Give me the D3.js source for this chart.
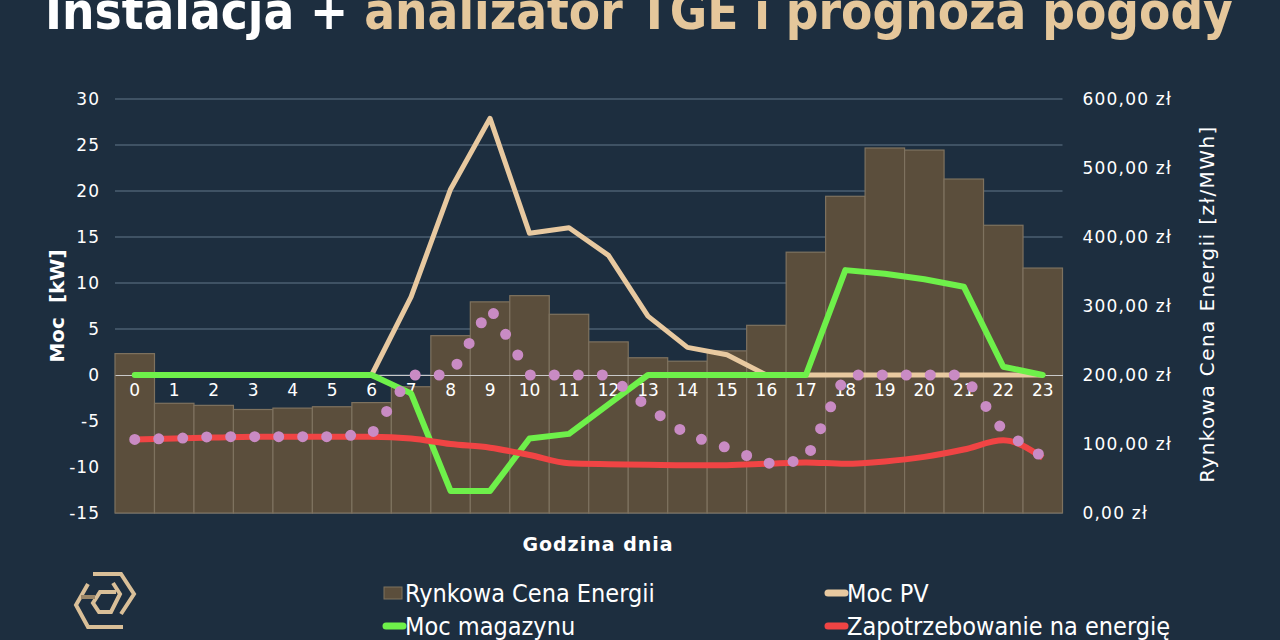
<!DOCTYPE html>
<html>
<head>
<meta charset="utf-8">
<script src="https://cdn.jsdelivr.net/npm/d3@7"></script>
<style>
  body { margin: 0; background: #1d2e3f; }
  svg { display: block; }
  .tick text { fill: #ffffff; }
</style>
</head>
<body>
<div class="chart"></div>
<script>
// hours of the day
var hours = d3.range(0, 24)

// market energy price [zł/MWh] (bars, right axis)
var price = [231, 159, 156, 150, 152, 154, 160, 183, 257, 306, 315, 288,
  248, 225, 220, 235, 272, 378, 459, 529, 526, 484, 417, 355]

// PV power [kW]
var pvPower = [0, 0, 0, 0, 0, 0, 0, 8.5, 20.2, 27.9, 15.4, 16.0,
  13.0, 6.4, 3.0, 2.2, 0, 0, 0, 0, 0, 0, 0, 0]

// storage power [kW]
var storagePower = [0, 0, 0, 0, 0, 0, 0, -2.0, -12.6, -12.6, -6.9, -6.4,
  -3.2, 0, 0, 0, 0, 0, 11.4, 11.0, 10.4, 9.6, 0.9, 0]

// energy demand [kW]
var demand = [-7.0, -6.9, -6.8, -6.7, -6.7, -6.7, -6.7, -6.9, -7.5, -7.9, -8.7, -9.6,
  -9.7, -9.75, -9.8, -9.8, -9.65, -9.5, -9.65, -9.4, -8.9, -8.1, -7.1, -9.0]

// grid exchange [kW] (dotted series)
var gridPower = [-7.0, -6.9, -6.7, -6.7, -6.7, -6.7, -6.4, 0, 0, 7.3, 0, 0,
  0, -3.5, -6.5, -7.9, -9.6, -9.3, 0, 0, 0, 0, -6.1, -8.9]

var leftTicks = [-15, -10, -5, 0, 5, 10, 15, 20, 25, 30]
var rightTicks = [0, 100, 200, 300, 400, 500, 600]

var legendLabels = ['Rynkowa Cena Energii', 'Moc PV', 'Moc magazynu', 'Zapotrzebowanie na energię']
var legendColors = ['#5b4e3c', '#e8c9a0', '#6ef04a', '#f04444']

var W = 1280
var H = 640
var font = '"DejaVu Sans", sans-serif'

var svg = d3.select('.chart')
  .append('svg')
  .attr('width', W)
  .attr('height', H)

svg.append('rect')
  .attr('width', W)
  .attr('height', H)
  .attr('fill', '#1d2e3f')

// Title
var title = svg.append('text')
  .attr('x', 45)
  .attr('y', 29)
  .attr('font-family', '"Liberation Sans Narrow", "DejaVu Sans Condensed", sans-serif')
  .attr('font-weight', 'bold')
  .attr('font-size', 52)
title.append('tspan').attr('fill', '#ffffff').text('Instalacja + ')
title.append('tspan').attr('fill', '#e5c79b').text('analizator TGE i prognoza pogody')
var tw = title.node().getComputedTextLength()
title.attr('font-size', 52 * 1188 / tw)

// Scales
var x = d3.scaleBand()
  .domain(hours)
  .range([115, 1062.5])
  .padding(0)

var yL = d3.scaleLinear()
  .domain([-15, 30])
  .range([513, 99])

var yR = d3.scaleLinear()
  .domain([0, 600])
  .range([513, 99])

var cx = h => x(h) + x.bandwidth() / 2

// Gridlines
svg.append('g')
  .selectAll('line')
  .data(leftTicks)
  .enter()
  .append('line')
  .attr('x1', 115)
  .attr('x2', 1062.5)
  .attr('y1', d => yL(d))
  .attr('y2', d => yL(d))
  .attr('stroke', '#62778a')
  .attr('stroke-width', 1.2)

// Price bars
svg.append('g')
  .selectAll('rect')
  .data(hours)
  .enter()
  .append('rect')
  .attr('x', h => x(h))
  .attr('width', x.bandwidth())
  .attr('y', h => yR(price[h]))
  .attr('height', h => yR(0) - yR(price[h]))
  .attr('fill', '#5b4e3c')
  .attr('stroke', '#7e725f')
  .attr('stroke-width', 1.2)

// Left axis
var yAxisL = d3.axisLeft(yL).tickValues(leftTicks).tickSize(0).tickPadding(15)
  .tickFormat(d => String(d))
svg.append('g')
  .attr('transform', 'translate(115,0)')
  .call(yAxisL)
  .call(g => g.select('.domain').remove())
  .selectAll('text')
  .attr('font-family', font)
  .attr('font-size', 17)
  .attr('letter-spacing', 1)

// Right axis
var yAxisR = d3.axisRight(yR).tickValues(rightTicks).tickSize(0).tickPadding(20)
  .tickFormat(d => d.toFixed(2).replace('.', ',') + ' zł')
svg.append('g')
  .attr('transform', 'translate(1062.5,0)')
  .call(yAxisR)
  .call(g => g.select('.domain').remove())
  .selectAll('text')
  .attr('font-family', font)
  .attr('font-size', 17)
  .attr('letter-spacing', 1.2)

// X axis on zero line
var xAxis = d3.axisBottom(x).tickSize(0).tickSizeOuter(0).tickPadding(9)
svg.append('g')
  .attr('transform', 'translate(0,' + yL(0) + ')')
  .call(xAxis)
  .call(g => g.select('.domain').attr('stroke', '#c9c9c9').attr('stroke-width', 1.2))
  .selectAll('text')
  .attr('font-family', font)
  .attr('font-size', 17)

// Lines
var line = d3.line()
  .x((d, i) => cx(i))
  .y(d => yL(d))

svg.append('path')
  .datum(pvPower)
  .attr('d', line)
  .attr('fill', 'none')
  .attr('stroke', '#e8c9a0')
  .attr('stroke-width', 5)
  .attr('stroke-linejoin', 'round')

svg.append('path')
  .datum(storagePower)
  .attr('d', line)
  .attr('fill', 'none')
  .attr('stroke', '#6ef04a')
  .attr('stroke-width', 6)
  .attr('stroke-linejoin', 'round')
  .attr('stroke-linecap', 'round')

svg.append('path')
  .datum(demand)
  .attr('d', line.curve(d3.curveMonotoneX))
  .attr('fill', 'none')
  .attr('stroke', '#f04444')
  .attr('stroke-width', 6)
  .attr('stroke-linejoin', 'round')
line.curve(d3.curveLinear)

svg.append('path')
  .datum(gridPower)
  .attr('d', line)
  .attr('fill', 'none')
  .attr('stroke', '#c98bc4')
  .attr('stroke-width', 11)
  .attr('stroke-linecap', 'round')
  .attr('stroke-dasharray', '0 24')

// Axis titles
svg.append('text')
  .attr('transform', 'translate(64,306) rotate(-90)')
  .attr('text-anchor', 'middle')
  .attr('font-family', font)
  .attr('font-weight', 'bold')
  .attr('font-size', 20)
  .attr('fill', '#ffffff')
  .attr('xml:space', 'preserve')
  .text('Moc  [kW]')

svg.append('text')
  .attr('transform', 'translate(1214,304) rotate(-90)')
  .attr('text-anchor', 'middle')
  .attr('font-family', font)
  .attr('font-size', 20)
  .attr('letter-spacing', 1.4)
  .attr('fill', '#ffffff')
  .text('Rynkowa Cena Energii [zł/MWh]')

svg.append('text')
  .attr('x', 598)
  .attr('y', 551)
  .attr('text-anchor', 'middle')
  .attr('font-family', font)
  .attr('font-weight', 'bold')
  .attr('font-size', 19)
  .attr('letter-spacing', 1)
  .attr('fill', '#ffffff')
  .text('Godzina dnia')

// Legend
var legendX = [384, 826]
var legendY = [593, 626]
var legend = svg.append('g')
  .selectAll('g')
  .data(legendLabels)
  .enter()
  .append('g')
  .attr('transform', (d, i) => 'translate(' + legendX[i % 2] + ',' + legendY[Math.floor(i / 2)] + ')')

legend.each(function(d, i) {
  var g = d3.select(this)
  if (i === 0) {
    g.append('rect')
      .attr('x', 0).attr('y', -6).attr('width', 18).attr('height', 12)
      .attr('fill', legendColors[i])
      .attr('stroke', '#7e725f')
  } else {
    g.append('line')
      .attr('x1', 2).attr('x2', 19).attr('y1', 0).attr('y2', 0)
      .attr('stroke', legendColors[i])
      .attr('stroke-width', 7)
      .attr('stroke-linecap', 'round')
  }
  g.append('text')
    .attr('x', 21)
    .attr('dy', '0.35em')
    .attr('font-family', '"Liberation Sans Narrow", "DejaVu Sans Condensed", sans-serif')
    .attr('font-size', 23)
    .attr('fill', '#ffffff')
    .text(d)
})

// size legend text so the first label is as wide as in the picture
var lt = legend.selectAll('text')
var lw = lt.nodes()[0].getComputedTextLength()
lt.attr('font-size', 23 * 250 / lw)

// Logo
var logo = svg.append('g')
  .attr('fill', 'none')
  .attr('stroke', '#d9bf98')
  .attr('stroke-width', 4)
  .attr('stroke-linejoin', 'miter')
logo.append('path').attr('d', 'M93,574 H121 L134,594 L121,614')
logo.append('path').attr('d', 'M88,584 L76,605 L88,627 H123')
logo.append('path').attr('d', 'M113,583 L120,594 L111,612 H99 L93,603 L100,592 H116')
logo.append('path').attr('d', 'M81,597 H95').attr('stroke', '#9b8668')
</script>
</body>
</html>
